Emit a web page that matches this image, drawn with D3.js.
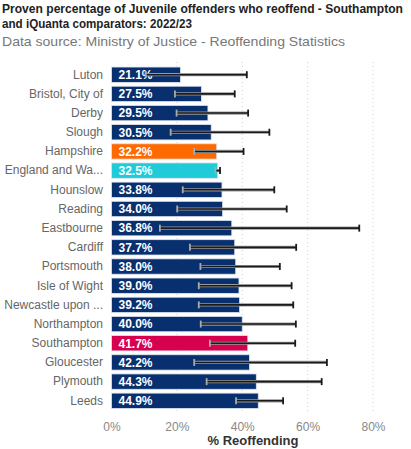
<!DOCTYPE html>
<html>
<head>
<meta charset="utf-8">
<script src="https://cdn.jsdelivr.net/npm/d3@7"></script>
<style>
  body { margin: 0; background: #fff; }
  svg { font-family: "Liberation Sans", Arial, sans-serif; }
</style>
</head>
<body>
<svg id="canvas"></svg>
<script>
const areas = ["Luton", "Bristol, City of", "Derby", "Slough", "Hampshire", "England and Wa...",
  "Hounslow", "Reading", "Eastbourne", "Cardiff", "Portsmouth", "Isle of Wight",
  "Newcastle upon ...", "Northampton", "Southampton", "Gloucester", "Plymouth", "Leeds"];
const rates = [21.1, 27.5, 29.5, 30.5, 32.2, 32.5, 33.8, 34.0, 36.8, 37.7, 38.0, 39.0, 39.2, 40.0, 41.7, 42.2, 44.3, 44.9];
const lower = [10.5, 19.4, 19.9, 18.1, 25.3, 31.8, 21.8, 20.1, 14.8, 24.0, 27.2, 26.7, 26.7, 27.3, 30.1, 25.3, 29.1, 38.1];
const upper = [41.4, 37.7, 41.8, 48.3, 40.4, 33.2, 49.8, 53.6, 75.8, 56.5, 51.5, 55.1, 55.6, 56.4, 56.2, 65.9, 64.3, 52.5];
const ticks = [0, 20, 40, 60, 80];

const width = 411;
const height = 449;

let canvas = d3.select("#canvas").attr("width", width).attr("height", height);

let colorFor = (name) => {
  if (name === "Hampshire") return "#ff6a00";
  if (name === "England and Wa...") return "#1ecbd6";
  if (name === "Southampton") return "#d7004f";
  return "#082f6e";
};

let rows = areas.map((a, i) => ({ name: a, rate: rates[i], lo: lower[i], hi: upper[i] }));

let x = d3.scaleLinear().domain([0, 80]).range([111.5, 373]);
let y = d3.scaleBand().domain(areas).range([63.2, 412.3]).padding(0.2);

// titles
canvas.append("text").attr("x", 2).attr("y", 13)
  .attr("font-size", 12.2).attr("font-weight", "bold").attr("fill", "#222")
  .attr("textLength", 401).attr("lengthAdjust", "spacingAndGlyphs")
  .text("Proven percentage of Juvenile offenders who reoffend - Southampton");
canvas.append("text").attr("x", 2).attr("y", 27.5)
  .attr("font-size", 12.2).attr("font-weight", "bold").attr("fill", "#222")
  .attr("textLength", 190).attr("lengthAdjust", "spacingAndGlyphs")
  .text("and iQuanta comparators: 2022/23");
canvas.append("text").attr("x", 2).attr("y", 45.5)
  .attr("font-size", 13).attr("fill", "#777")
  .attr("textLength", 343).attr("lengthAdjust", "spacingAndGlyphs")
  .text("Data source: Ministry of Justice - Reoffending Statistics");

// dotted gridlines
canvas.append("g").selectAll("line").data(ticks.slice(1)).enter().append("line")
  .attr("x1", (d) => x(d)).attr("x2", (d) => x(d))
  .attr("y1", 62).attr("y2", 412)
  .attr("stroke", "#d0d0d0").attr("stroke-dasharray", "1,3");

// x axis
let xAxis = d3.axisBottom(x).tickValues(ticks).tickFormat((d) => d + "%").tickSize(0).tickPadding(0);
let gx = canvas.append("g").attr("transform", "translate(0,422)").call(xAxis);
gx.select(".domain").remove();
gx.selectAll("text").attr("font-size", 12).attr("fill", "#888").attr("font-family", "Liberation Sans, Arial, sans-serif");

canvas.append("text").attr("x", 253).attr("y", 445).attr("text-anchor", "middle")
  .attr("font-size", 13).attr("font-weight", "bold").attr("fill", "#333")
  .text("% Reoffending");

// y axis
let yAxis = d3.axisLeft(y).tickSize(0).tickPadding(0);
let gy = canvas.append("g").attr("transform", "translate(103,0)").call(yAxis);
gy.select(".domain").remove();
gy.selectAll("text").attr("font-size", 12).attr("fill", "#666").attr("font-family", "Liberation Sans, Arial, sans-serif");

// bars
let block = canvas.append("g").selectAll("g").data(rows).enter().append("g");

block.append("rect")
  .attr("x", x(0))
  .attr("y", (d) => y(d.name))
  .attr("width", (d) => x(d.rate) - x(0))
  .attr("height", y.bandwidth())
  .attr("fill", (d) => colorFor(d.name))
  .attr("stroke", "#dfe4ee").attr("stroke-width", 0.8);

block.append("text")
  .attr("x", x(0) + 7)
  .attr("y", (d) => y(d.name) + y.bandwidth() / 2)
  .attr("dy", "0.36em")
  .attr("font-size", 12).attr("font-weight", "bold").attr("fill", "#fff")
  .text((d) => d.rate.toFixed(1) + "%");

// error bars
let err = block.append("g");
let cy = (d) => y(d.name) + y.bandwidth() / 2;
err.append("line")
  .attr("x1", (d) => x(d.lo)).attr("x2", (d) => x(d.hi))
  .attr("y1", cy).attr("y2", cy)
  .attr("stroke", "#999").attr("stroke-width", 3.2);
err.append("line")
  .attr("x1", (d) => x(d.lo)).attr("x2", (d) => x(d.hi))
  .attr("y1", cy).attr("y2", cy)
  .attr("stroke", "#1a1a1a").attr("stroke-width", 1.6);
["lo", "hi"].forEach((k) => {
  err.append("line")
    .attr("x1", (d) => x(d[k])).attr("x2", (d) => x(d[k]))
    .attr("y1", (d) => cy(d) - 3.5).attr("y2", (d) => cy(d) + 3.5)
    .attr("stroke", k === "lo" ? "#aaa" : "#1a1a1a").attr("stroke-width", 1.8);
});
</script>
</body>
</html>
